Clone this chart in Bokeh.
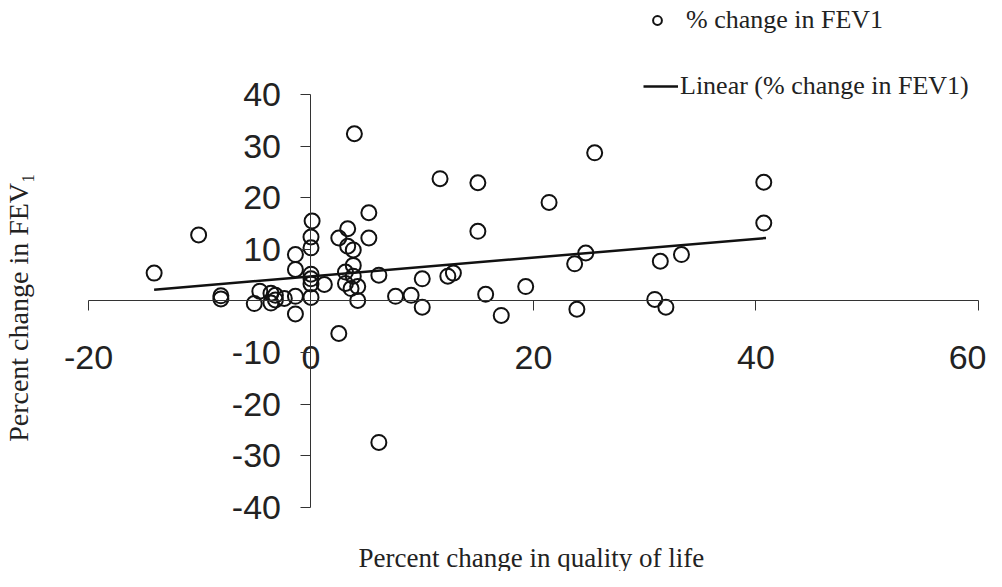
from bokeh.plotting import figure
from bokeh.models import LinearAxis, FixedTicker, Range1d, Label, Legend, LegendItem, ColumnDataSource
from bokeh.embed import file_html
from bokeh.resources import INLINE

# ---- data ----
qol_change = [-14.1, -10.1, -8.1, -8.1, -5.1, -4.6, -3.6, -3.2, -3.6, -3.2, -2.4, -1.4, -1.4,
              -1.4, -1.4, 0.0, 0.0, 0.0, 0.0, 0.0, 0.0, 0.1, 1.2, 2.5, 2.5, 3.3, 3.3, 3.8,
              3.8, 3.1, 3.8, 3.1, 3.6, 4.2, 4.2, 3.9, 5.2, 5.2, 6.1, 6.1, 7.6, 9.0, 10.0,
              10.0, 11.6, 12.3, 12.8, 15.0, 15.0, 15.7, 17.1, 19.3, 21.4, 23.7, 24.7, 23.9,
              25.5, 30.9, 31.9, 31.4, 33.3, 40.7, 40.7]
fev1_change = [5.4, 12.8, 1.0, 0.4, -0.5, 1.9, 1.5, 1.1, -0.4, 0.2, 0.5, 0.9, -2.5,
               6.1, 9.0, 0.7, 3.3, 4.3, 5.2, 10.3, 12.4, 15.5, 3.2, 12.2, -6.3, 14.0, 10.6, 9.9,
               6.9, 5.6, 4.8, 3.4, 2.4, 2.8, 0.1, 32.4, 17.1, 12.2, 5.0, -27.4, 0.9, 1.1, 4.3,
               -1.2, 23.7, 4.8, 5.4, 22.9, 13.5, 1.3, -2.8, 2.8, 19.1, 7.2, 9.3, -1.6,
               28.7, 0.3, -1.2, 7.7, 9.0, 23.0, 15.1]
trend_x = [-14.1, 40.9]
trend_y = [2.2, 12.2]
x_ticks = [-20, 0, 20, 40, 60]
y_ticks = [-40, -30, -20, -10, 10, 20, 30, 40]
x_title = "Percent change in quality of life"
y_title = "Percent change in FEV\u2081"
series_name = "% change in FEV1"
trend_name = "Linear (% change in FEV1)"

W, H = 986, 571
p = figure(width=W, height=H, output_backend="svg", toolbar_location=None,
           x_range=Range1d(-27.91, 60.72), y_range=Range1d(-52.40, 58.21),
           x_axis_type=None, y_axis_type=None, min_border=0)
p.outline_line_color = None
p.background_fill_color = "white"
p.border_fill_color = "white"

TXT = "#222222"
AX = "#333333"

xaxis = LinearAxis(fixed_location=0, bounds=(-20, 60),
                   ticker=FixedTicker(ticks=x_ticks, minor_ticks=[]))
yaxis = LinearAxis(fixed_location=0, bounds=(-40, 40),
                   ticker=FixedTicker(ticks=y_ticks, minor_ticks=[]))
xaxis.major_label_overrides = {t: str(t) for t in x_ticks}
yaxis.major_label_overrides = {t: str(t) for t in y_ticks}
for ax in (xaxis, yaxis):
    ax.axis_line_color = AX
    ax.axis_line_width = 1
    ax.major_tick_line_color = AX
    ax.major_tick_out = 10
    ax.major_tick_in = 0
    ax.minor_tick_out = 0
    ax.minor_tick_in = 0
    ax.major_label_text_font = "Liberation Sans"
    ax.major_label_text_font_size = "34px"
    ax.major_label_text_color = TXT
xaxis.major_label_standoff = 35
yaxis.major_label_standoff = 20
p.add_layout(xaxis, "below")
p.add_layout(yaxis, "left")

src = ColumnDataSource(dict(x=qol_change, y=fev1_change))
pts = p.scatter("x", "y", source=src, marker="circle", size=15, fill_color=None,
                line_color="#111111", line_width=2)
tsrc = ColumnDataSource(dict(x=trend_x, y=trend_y))
trend = p.line("x", "y", source=tsrc, line_color="#111111", line_width=2.5)

p.add_layout(Label(x=358, y=14, x_units="screen", y_units="screen", text=x_title,
                   text_font="Liberation Serif", text_font_size="27px", text_color=TXT,
                   text_align="left", text_baseline="middle"))
p.add_layout(Label(x=18, y=264, x_units="screen", y_units="screen", text=y_title,
                   angle=1.5707963, text_font="Liberation Serif", text_font_size="28px",
                   text_color=TXT, text_align="center", text_baseline="middle"))

common = dict(padding=0, margin=0, spacing=0, border_line_color=None,
              background_fill_alpha=0, label_text_font="Liberation Serif",
              label_text_font_size="26px", label_text_color=TXT)
leg1 = Legend(items=[LegendItem(label=series_name, renderers=[pts])], location=(646, 536),
              glyph_width=22, glyph_height=22, label_standoff=18, **common)
leg2 = Legend(items=[LegendItem(label=trend_name, renderers=[trend])], location=(643, 470),
              glyph_width=35, glyph_height=22, label_standoff=2, **common)
p.add_layout(leg1)
p.add_layout(leg2)

open("out.html", "w").write(file_html(p, INLINE))
